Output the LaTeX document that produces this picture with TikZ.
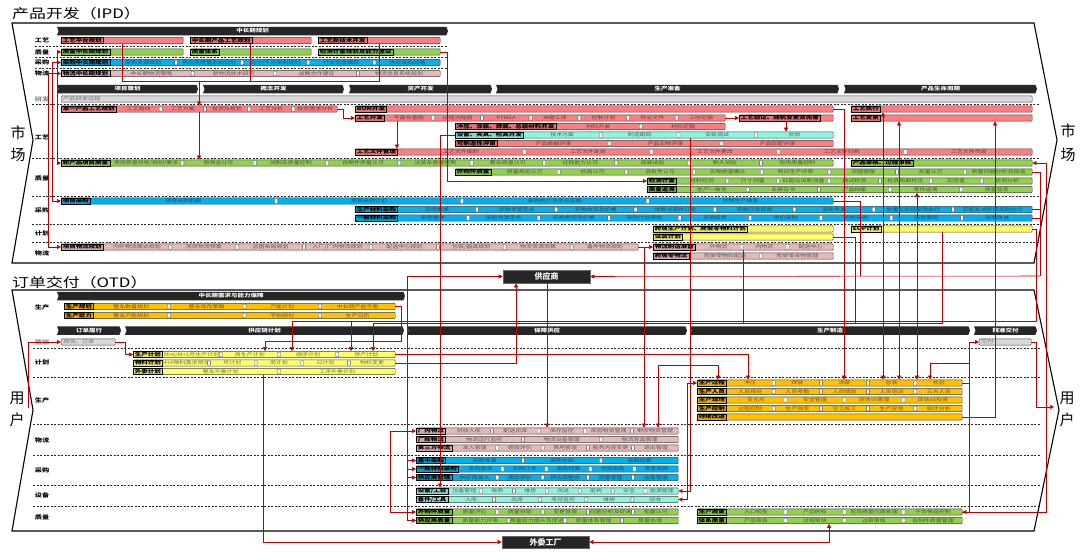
\documentclass[tikz,border=0pt]{standalone}
\usepackage{fontspec}
\setmainfont{Noto Sans CJK SC}
\newfontfamily\cjk{Noto Sans CJK SC}
\newfontfamily\cjkw{Noto Sans CJK SC}[FakeStretch=1.3]
\usetikzlibrary{arrows.meta,calc,shapes.symbols}
\definecolor{cRed}{HTML}{FF7C80}
\definecolor{cGreen}{HTML}{92D050}
\definecolor{cBlue}{HTML}{00B0F0}
\definecolor{cPink}{HTML}{E6B9B8}
\definecolor{cCyan}{HTML}{8DF5DE}
\definecolor{cYellow}{HTML}{FFFF66}
\definecolor{cOrange}{HTML}{FFC000}
\definecolor{cGray}{HTML}{D9D9D9}
\definecolor{cHdr}{HTML}{262626}
\definecolor{cLine}{HTML}{C00000}
\tikzset{
 barbox/.style={draw=black!75,line width=0.45pt,rounded corners=0.8pt,fill=#1,minimum height=6.2pt,inner sep=0pt},
 barlab/.style={draw=black,line width=0.5pt,fill=#1!90!black,font=\cjkw\bfseries\fontsize{5}{5}\selectfont,minimum height=6.2pt,inner xsep=1.5pt,inner ysep=0pt,text=black},
 segtxt/.style={font=\cjkw\fontsize{4.6}{5}\selectfont,text=#1!45!black,inner sep=0pt},
 segdiv/.style={draw=black!70,line width=0.35pt,fill=white,minimum width=3pt,minimum height=4.6pt,inner sep=0pt,rounded corners=0.5pt},
 hdr/.style={signal,signal to=east,signal from=west,signal pointer angle=140,fill=cHdr,draw=none,text=white,font=\cjkw\bfseries\fontsize{5}{5}\selectfont,minimum height=8.5pt,inner sep=0pt},
 lane/.style={font=\cjkw\bfseries\fontsize{5.5}{6}\selectfont,inner sep=0pt},
 sep/.style={black!85,dash pattern=on 2pt off 1.5pt,line width=0.5pt},
 outline/.style={black,line width=1.1pt},
 con/.style={cLine,line width=0.55pt},
 arr/.style={con,-{Triangle[length=4pt,width=4pt]}},
 darr/.style={con,{Triangle[length=4pt,width=4pt]}-{Triangle[length=4pt,width=4pt]}},
 box/.style={fill=cHdr,draw=black!60,line width=0.6pt,text=white,font=\cjk\bfseries\fontsize{8}{8}\selectfont,minimum width=87pt,minimum height=13pt,inner sep=0pt},
 big/.style={font=\cjk\fontsize{15}{15}\selectfont,inner sep=0pt},
 title/.style={font=\cjkw\fontsize{13}{13}\selectfont,anchor=west,inner sep=0pt},
 plain/.style={font=\cjkw\fontsize{4.8}{5}\selectfont,text=black!55,inner sep=0pt},
}
\newcommand\mkbarL[6]{%
  \node[barbox=#5,minimum width=#3-#2,anchor=west] (#1) at (#2,#4) {};
  \node[barlab=#5,anchor=west] (#1-l) at (#1.west) {#6};}
\newcommand\mkbar[7]{%
  \mkbarL{#1}{#2}{#3}{#4}{#5}{#6}%
  \gdef\segn{0}%
  \foreach \s in {#7}{\xdef\segn{\the\numexpr\segn+1\relax}}%
  \foreach \s [count=\i] in {#7}{%
    \node[segtxt=#5] (#1-s\i) at ($(#1-l.east)!{(\i-0.5)/\segn}!(#1.east)$) {\s};
    \ifnum\i<\segn\relax
      \node[segdiv] (#1-d\i) at ($(#1-l.east)!{\i/\segn}!(#1.east)$) {};
    \fi}%
}
\begin{document}
\begin{tikzpicture}[x=1pt,y=-1pt]
\useasboundingbox (0,0) rectangle (1080,554);
% ---------- titles and outlines
\node[title] (t1) at (12,14) {产品开发（IPD）};
\node[title] (t2) at (12,283) {订单交付（OTD）};
\draw[outline] (12,23) -- (1034,23) -- (1057,140) -- (1034,263) -- (12,263) -- (33,140) -- cycle;
\draw[outline] (12,290) -- (1034,290) -- (1059,410) -- (1034,531) -- (12,531) -- (33,410) -- cycle;
\node[big] (mL1) at (18,133) {市};
\node[big] (mL2) at (18,155) {场};
\node[big] (mR1) at (1068,131) {市};
\node[big] (mR2) at (1068,155) {场};
\node[big] (uL1) at (17,398) {用};
\node[big] (uL2) at (17,420) {户};
\node[big] (uR1) at (1067,398) {用};
\node[big] (uR2) at (1067,420) {户};
% ---------- lane separators
\foreach \yy in {46,57,68} \draw[sep] (35,\yy) -- (448,\yy);
\foreach \yy in {104,158,196,224,242} \draw[sep] (32,\yy) -- (1040,\yy);
\foreach \yy in {348,377.5,424,455,485,506} \draw[sep] (33,\yy) -- (1040,\yy);
% ---------- lane labels
\node[lane] (lg1) at (42,40.5) {工艺};
\node[lane] (lg2) at (42,52) {质量};
\node[lane] (lg3) at (42,62.5) {采购};
\node[lane] (lg4) at (42,73.5) {物流};
\node[lane,text=black!45] (lp0) at (42,99) {研发};
\node[lane] (lp1) at (42,137) {工艺};
\node[lane] (lp2) at (42,178) {质量};
\node[lane] (lp3) at (42,210) {采购};
\node[lane] (lp4) at (42,233) {计划};
\node[lane] (lp5) at (42,253) {物流};
\node[lane] (lo1) at (42,307) {生产};
\node[lane,text=black!45] (lo2) at (42,342) {营销};
\node[lane] (lo3) at (42,362) {计划};
\node[lane] (lo4) at (42,400) {生产};
\node[lane] (lo5) at (42,440) {物流};
\node[lane] (lo6) at (42,470) {采购};
\node[lane] (lo7) at (42,495) {设备};
\node[lane] (lo8) at (42,517) {质量};
% ---------- headers
\node[hdr,minimum width=391] (hA) at (252.5,31) {中长期规划};
\node[hdr,minimum width=141] (h1) at (127.5,89) {项目策划};
\node[hdr,minimum width=141] (h2) at (273.5,89) {概念开发};
\node[hdr,minimum width=143] (h3) at (420.5,89) {资产开发};
\node[hdr,minimum width=343] (h4) at (667.5,89) {生产准备};
\node[hdr,minimum width=193] (h5) at (940.5,89) {产品生命周期};
\node[hdr,minimum width=348] (hB) at (231,296) {中长期需求与能力保障};
\node[hdr,minimum width=64] (o1) at (89,330.5) {订单履行};
\node[hdr,minimum width=279] (o2) at (264.5,330.5) {供应链计划};
\node[hdr,minimum width=280] (o3) at (547,330.5) {保障供应};
\node[hdr,minimum width=280] (o4) at (830,330.5) {生产制造};
\node[hdr,minimum width=63] (o5) at (1005.5,330.5) {精准交付};
% ---------- IPD bars
\mkbarL{gy1}{61}{183}{40.5}{cRed}{工艺平台规划}
\mkbarL{gy2}{190}{311}{40.5}{cRed}{中长期产品工艺规划}
\mkbarL{gy3}{318}{440}{40.5}{cRed}{工艺新技术开发}
\mkbarL{gq1}{61}{183}{52}{cGreen}{质量中长期规划}
\mkbarL{gq2}{190}{311}{52}{cGreen}{质量体系}
\mkbarL{gq3}{318}{440}{52}{cGreen}{检测计量规划及能力建设}
\mkbar{gc}{61}{440}{62.5}{cBlue}{采购中长期规划}{采购资源规划,供应商质量系统规划,动力/平台采购规划,行业信息跟踪,供应采购战略}
\mkbar{gl}{61}{440}{73.5}{cPink}{物流中长期规划}{中长期物流策略,新物流技术研究,战略合作建设,物流信息系统规划}
\node[barbox=cGray,minimum width=971,anchor=west] (rd) at (61,99) {};
\node[plain,anchor=west] (rd-t) at ([xshift=2pt]rd.west) {产品研发过程};
\mkbar{p1}{61}{337}{109}{cRed}{单一产品工艺规划}{工艺路线,工艺方案,投资及规划,工艺分析,投资需求分析}
\mkbarL{p2}{355}{833}{109}{cRed}{BOM开发}
\mkbarL{px1}{851}{1032}{109}{cRed}{工艺执行}
\mkbar{p3}{355}{725}{118}{cRed}{工艺开发}{平面布置图,过程流程图,PFMEA,关键工序,控制计划,作业文件,工时定额}
\mkbarL{p4}{739}{833}{118}{cRed}{工艺验证、随机变更及完善}
\mkbarL{px2}{851}{1032}{118}{cRed}{工艺变更}
\mkbar{p5}{455}{725}{126.5}{cRed}{冲压、涂装、焊装、总装材料开发}{材料开发,材料定额}
\mkbar{p6}{455}{833}{135}{cCyan}{设备、夹具、检具开发}{技术方案,制造跟踪,安装调试,验收}
\mkbar{p7}{455}{833}{143.5}{cRed}{可制造性评审}{产品数据评审,产品实物评审,产品匹配评审}
\mkbar{p8}{355}{1032}{152}{cRed}{工艺文件管理}{工艺文件编制,工艺文件发放,工艺文件更改,工艺文件归档,工艺文件作废}
\mkbar{q1}{61}{833}{163}{cGreen}{新产品项目质量}{项目质量目标/规划/要求,质保总认可,试制车质量控制,自制件质量认可,试装车质量控制,整车质量认可,过程能力认可,道路试验,耐久试验,现场质量控制}
\mkbarL{qa}{851}{1032}{163}{cGreen}{产品审核、过程审核}
\mkbar{q2}{455}{1032}{172}{cGreen}{外购件质量}{质量规划认可,检具认可,首批件认可,实物质量确认,两日生产评审,流程管理,批量认可,质量问题分析及促进}
\mkbar{q3}{647}{1032}{181}{cGreen}{检测计量}{材料检测,尺寸测量,匹配与试制测量,路试检测,检具周期检定,实验室,检测分析}
\mkbar{q4}{647}{1032}{189.5}{cGreen}{质量追溯}{生产一致性,车辆证书,产品档案,零件追溯,质量信息}
\mkbar{c1}{61}{833}{201}{cBlue}{项目采购}{项目采购前期,项目采购计划,采购执行及定点实施,试制生产准备}
\mkbar{c2}{355}{1032}{209.5}{cBlue}{生产材料采购}{采购需求,采购寻源定点,采购合同及价格,试制试装件订货,采购订货异常,采购寻源,批量车阶段采购执行,匹配车试阶段采购执行}
\mkbar{c3}{355}{1032}{218}{cBlue}{一般材料采购}{采购需求,采购寻源定点,采购合同及价格,采购计划审批,采购异常,寻价采购,招标采购,采购跟踪,采购改进}
\mkbarL{j1}{653}{833}{229}{cYellow}{爬坡生产计划、爬坡零物料计划}
\mkbarL{j2}{851}{1032}{229}{cYellow}{EOP计划}
\mkbarL{j3}{653}{833}{237}{cYellow}{试装计划}
\mkbar{l1}{61}{638}{247}{cPink}{项目物流规划}{内外物流模式规划,项目物流预算,总图布局规划,入厂/厂内物流规划,配送中心规划,包装/器具规划,物流资源测算,备件物流规划}
\mkbar{l2}{653}{833}{247}{cPink}{物流制造准备}{外物流,内物流,配送中心}
\mkbar{l3}{653}{833}{256}{cPink}{爬坡零物流}{爬坡零物料配送,爬坡零采物管理}
\node[box] (sup) at (546.5,276.5) {供应商};
% ---------- OTD bars
\mkbar{s1}{64}{395}{306.5}{cOrange}{生产规划}{整车数量规划,整车库存策略,产能计划,中长期产能平衡}
\mkbar{s2}{64}{395}{315.5}{cOrange}{生产能力}{整车产能规划,{},节拍规划,生产日历}
\node[barbox=cGray,minimum width=54,anchor=west] (yc) at (61,342) {};
\node[plain,anchor=west] (yc-t) at ([xshift=2pt]yc.west) {预测、订单};
\node[barbox=cGray,minimum width=52,anchor=west] (jf) at (979,342) {};
\node[plain,anchor=west] (jf-t) at ([xshift=2pt]jf.west) {交付};
\mkbar{pp1}{133}{395}{354.5}{cYellow}{生产计划}{M+6/M+1月生产计划,周生产计划,顺序计划,停产计划}
\mkbar{pp2}{133}{395}{363}{cYellow}{物料计划}{M+6物料需求预测,月计划,周计划,日计划,物料变更}
\mkbar{pp3}{133}{395}{371.5}{cYellow}{外委计划}{整车外委计划,工序外委计划}
\mkbar{m1}{697}{962}{383}{cOrange}{生产过程}{冲压,焊装,涂装,总装,检验}
\mkbar{m2}{697}{962}{391.5}{cOrange}{生产人员}{人员排班,人员考勤,人员绩效,人员培训,三方人员}
\mkbar{m3}{697}{962}{400}{cOrange}{生产现场}{变化点,安全管理,现场5S管理,现场5S检查}
\mkbar{m4}{697}{962}{408.5}{cOrange}{生产控制}{过程控制,生产效率,交工核工,生产异常,统计分析}
\mkbarL{m5}{697}{962}{417}{cOrange}{持续改进}
\mkbar{bl1}{416}{678}{431}{cPink}{厂内物流}{验收入库,配送出库,库存监控,库房物资管理,剩余物资管理}
\mkbar{bl2}{416}{678}{439.5}{cPink}{厂际物流}{物流运行监控,物流设备管理,物流容具管理}
\mkbar{bl3}{416}{678}{448}{cPink}{第三方物流}{准入管理,绩效评价,费用管理,服务内容变更,退出管理}
\mkbar{bc1}{416}{678}{460.5}{cBlue}{集中采购}{采购寻源,采购合同,采购结算}
\mkbar{bc2}{416}{678}{469}{cBlue}{一般材料采购}{采购需求,采购订单,采购结算,合同采购,零星采购}
\mkbar{bc3}{416}{678}{477.5}{cBlue}{供应商管理}{供应商准入,绩效评价,供应商整合,质量管理,信息管理}
\mkbar{be1}{416}{678}{491}{cCyan}{设备/工装}{设备管理,保养,维修,改进,能耗,安全,能源管理}
\mkbar{be2}{416}{678}{499.5}{cCyan}{备件/工具}{入库,出库,库存监控,维修,验收}
\mkbar{bq1}{416}{678}{512}{cGreen}{外购件质量}{质量评价,质量协助,变更管理,问题分析及促进,批量认可}
\mkbar{bq2}{416}{678}{520.5}{cGreen}{供应商质量}{质量能力评审,质量能力提升及促进,质量体系管理,质量协调}
\mkbar{zq1}{697}{962}{512}{cGreen}{生产质量}{入口检查,产品终检,现场质量问题处理,不合格品控制}
\mkbar{zq2}{697}{962}{520.5}{cGreen}{体系质量}{产品审核,过程审核,过审审核,自制件质量管理}
\node[box,minimum height=12pt] (ww) at (545.5,542) {外委工厂};
% ---------- route coordinates
\foreach \xx in {122,125,199,250,263,265,292,351,373,379,397,407,440,516,547,644,658,687,690,718,743,748,786,829,844,855,860,883,899,917,930,942,995,1036,1040,1046}
  \coordinate (X\xx) at (\xx,0);
\foreach \yy in {81,276,321,323,341,363,365,512}
  \coordinate (Y\yy) at (0,\yy);
\coordinate (uL) at (28,408);
\coordinate (uR) at (1054,407);
% ---------- connectors IPD
\draw[con] (gy1.south -| X122) |- (Y81 -| X379) -- (gy3.south -| X379);
\draw[con] (gy2.south -| X250) -- (Y81 -| X250);
\draw[arr] (Y81 -| X199) -- (p1.north -| X199);
\draw[arr] (p1.south -| X199) -- (q1.north -| X199);
\draw[darr] (gq1.west) -- ++(-4,0) |- (q1.west);
\draw[darr] (gc.west) -- ++(-9,0) |- (c1.west);
\draw[darr] (gl.west) -- ++(-13,0) |- (l1.west);
\draw[arr] (p1.east) -- ++(6,0) |- (p3.west);
\draw[arr] (p3.east) -- (p4.west);
\draw[arr] (p4.south -| X786) -- (p6.north -| X786);
\draw[arr] (p3.south -| X397) -- (p8.north -| X397);
\draw[arr] (gq3.east) -- ++(7,0) |- (q3.west);
\draw[arr] (p6.west) -| (be1.north -| X440);
\draw[arr] (l1.east) -- (l2.west);
\draw[arr] (l1.east) -| (bl1.north -| X644);
\draw[arr] (p6.south -| X690) |- (be1.east);
\draw[arr] (p2.east) -| (m1.north -| X844);
\draw[darr] (px1.south -| X883) -- (m1.north -| X883);
\draw[darr] (px2.south -| X899) -- (m1.north -| X899);
\draw[darr] (q4.south -| X917) -- (m1.north -| X917);
\draw[arr] (m5.east) -| (px2.south -| X995);
\draw[darr] (qa.east) -| (Y512 -| X1046) -- (zq1.east);
% supplier inputs from the right
\draw[con] (q2.east) -| (Y276 -| X1040);
\draw[con] (c2.east) -- (c2.east -| X1040);
\draw[con] (c3.east) -- (c3.east -| X1040);
\draw[arr] (Y276 -| X1040) -- (sup.east);
\draw[con] (c1.east) -| (Y276 -| X860);
% ---------- connectors OTD
\draw[arr] (j2.east) -| (Y321 -| X1036) -| (pp1.north -| X292);
\draw[arr] (Y321 -| X351) -- (pp1.north -| X351);
\draw[arr] (j3.east) -| (Y323 -| X855) -| (pp1.north -| X373);
\draw[con] (l2.south -| X743) -- (Y323 -| X743);
\draw[con] (j2.south -| X942) |- (Y323 -| X855);
\draw[arr] (s1.east) -- ++(6,0) |- (Y341 -| X265) -- (pp1.north -| X265);
\draw[arr] (yc.east) -- (yc.east -| X125) |- (pp1.west);
\draw[arr] (uL) |- (yc.west);
\draw[arr] (pp1.east) -| (m1.north -| X748);
\draw[arr] (pp2.east) -| (sup.south -| X516);
\draw[arr] (sup.south -| X547) -- (bl1.north -| X547);
\draw[darr] (bl1.north -| X658) |- (Y365 -| X718) -- (m1.north -| X718);
\draw[darr] (m1.west) -- (m1.west -| X687) |- (be2.east);
\draw[arr] (m1.east) -- ++(7,0) |- (jf.west);
\draw[arr] (jf.east) -- ++(5,0) |- (uR);
\draw[arr] (zq1.east) -- ++(7,0) |- (Y363 -| X930) -- (m1.north -| X930);
\draw[arr] (pp3.south -| X263) |- (ww.west);
\draw[darr] (ww.east) -| (zq2.south -| X829);
\draw[darr] (sup.west) -- (sup.west -| X407) |- (bq2.west);
\draw[arr] (bc1.west -| X407) -- (bc1.west);
\draw[arr] (bc2.west -| X407) -- (bc2.west);
\draw[arr] (bc3.west -| X407) -- (bc3.west);
\draw[darr] (bl1.west) -- ++(-26,0) |- (bq1.west);
\end{tikzpicture}
\end{document}
